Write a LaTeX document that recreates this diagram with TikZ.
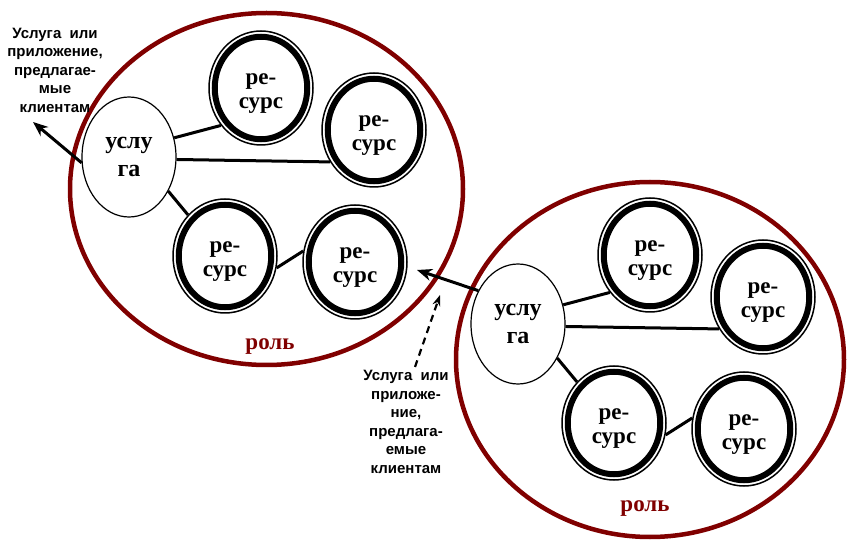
\documentclass[tikz,border=0pt]{standalone}
\usepackage{fontspec}
\setmainfont{Liberation Serif}
\newfontfamily\labelfont{Liberation Sans}
\usetikzlibrary{shapes.geometric,arrows.meta}
\definecolor{rolered}{RGB}{128,0,0}

\begin{document}
\begin{tikzpicture}[x=1pt,y=-1pt,
  role/.style={ellipse, draw=rolered, line width=4.5pt,
    minimum width=393pt, minimum height=352pt},
  rolename/.style={text=rolered, font=\fontsize{23}{24}\selectfont\bfseries},
  service/.style={ellipse, draw, fill=white, line width=1.2pt,
    minimum width=94pt, minimum height=120pt, inner sep=0pt, align=center,
    font=\fontsize{24}{28}\selectfont\bfseries},
  resource/.style={ellipse, draw, fill=white, line width=1.5pt,
    minimum width=104pt, minimum height=114pt, inner sep=0pt, align=center,
    text height=46pt, font=\fontsize{23}{24}\selectfont\bfseries,
    path picture={\draw[line width=6pt] (path picture bounding box.center)
      ellipse [x radius=46.25pt, y radius=51.25pt];}},
  link/.style={line width=3pt},
  offer/.style={line width=3pt, -{Stealth[length=15pt,width=12pt]}},
  note/.style={align=center, font=\fontsize{15}{18.5}\selectfont\labelfont\bfseries}]
  \useasboundingbox (0,0) rectangle (847,545);

  \node[role] (role1) at (266.5,189) {};
  \node[role, minimum width=388pt, minimum height=355pt] (role2) at (650,359.5) {};
  \node[rolename] (name1) at (270,347) {роль};
  \node[rolename] (name2) at (645,509) {роль};

  \node[service] (serv1) at (129,157) {услу\\га};
  \node[resource] (res11) at (261,88) {ре-\\сурс};
  \node[resource] (res12) at (374,130) {ре-\\сурс};
  \node[resource] (res13) at (225,256) {ре-\\сурс};
  \node[resource] (res14) at (355,262) {ре-\\сурс};
  \draw[link] (serv1.23) -- (res11.223);
  \draw[link] (serv1.-3) -- (res12.216);
  \draw[link] (serv1.-41) -- (res13.132);
  \draw[link] (res13.-13) -- (res14.168);

  \node[service] (serv2) at (518,324) {услу\\га};
  \node[resource] (res21) at (650,255) {ре-\\сурс};
  \node[resource] (res22) at (763,297) {ре-\\сурс};
  \node[resource] (res23) at (614,423) {ре-\\сурс};
  \node[resource] (res24) at (744,429) {ре-\\сурс};
  \draw[link] (serv2.23) -- (res21.223);
  \draw[link] (serv2.-3) -- (res22.216);
  \draw[link] (serv2.-41) -- (res23.132);
  \draw[link] (res23.-13) -- (res24.168);

  \node[note] (note1) at (55,70) {Услуга\ \ или\\приложение,\\предлагае-\\мые\\клиентам};
  \node[note] (note2) at (406,422) {Услуга\ \ или\\приложе-\\ние,\\предлага-\\емые\\клиентам};
  \coordinate (out1) at (33,122);
  \coordinate (out2) at (417,270);
  \coordinate (up2) at (440,295);
  \draw[offer] (serv1.187) -- (out1);
  \draw[offer] (serv2.140) -- (out2);
  \draw[line width=2.2pt, dash pattern=on 7pt off 5pt, -{Stealth[length=11pt,width=8pt]}]
    ([xshift=9pt]note2.north) -- (up2);
\end{tikzpicture}
\end{document}
